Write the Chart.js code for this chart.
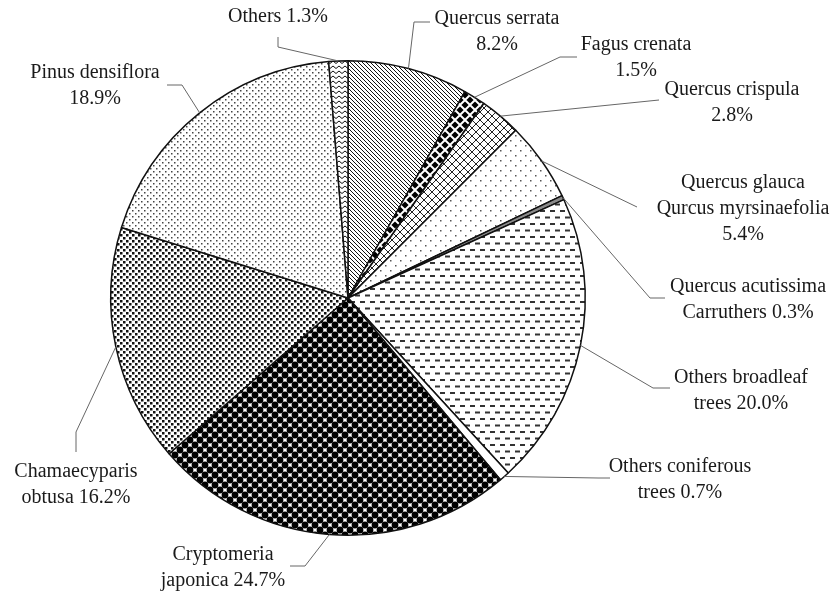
<!DOCTYPE html>
<html>
<head>
<meta charset="utf-8">
<title>Forest species composition</title>
<script src="https://cdn.jsdelivr.net/npm/chart.js@4.4.1/dist/chart.umd.min.js"></script>
<style>
  html, body { margin: 0; padding: 0; background: #fff; }
  #wrap { width: 834px; height: 592px; }
</style>
</head>
<body>
<div id="wrap"><canvas id="pie"></canvas></div>
<script>
// data, clockwise from 12 o'clock
let SPECIES = ['Quercus serrata', 'Fagus crenata', 'Quercus crispula', 'Quercus glauca Qurcus myrsinaefolia',
	'Quercus acutissima Carruthers', 'Others broadleaf trees', 'Others coniferous trees',
	'Cryptomeria japonica', 'Chamaecyparis obtusa', 'Pinus densiflora', 'Others'];
let SHARE = [8.2, 1.5, 2.8, 5.4, 0.3, 20.0, 0.7, 24.7, 16.2, 18.9, 1.3];
// how each label is broken into lines, {v} is the share
let LABEL_LINES = [
	['Quercus serrata', '{v}'],
	['Fagus crenata', '{v}'],
	['Quercus crispula', '{v}'],
	['Quercus glauca', 'Qurcus myrsinaefolia', '{v}'],
	['Quercus acutissima', 'Carruthers {v}'],
	['Others broadleaf', 'trees {v}'],
	['Others coniferous', 'trees {v}'],
	['Cryptomeria', 'japonica {v}'],
	['Chamaecyparis', 'obtusa {v}'],
	['Pinus densiflora', '{v}'],
	['Others {v}'],
];

// label placement: text centre and the leader's elbow points (text side first)
let LABEL_LAYOUT = [
	{ x: 497, y: 19, path: [[430, 22], [414, 22]] },
	{ x: 636, y: 45, path: [[577, 57], [560, 57]] },
	{ x: 732, y: 90, path: [[659, 100]] },
	{ x: 743, y: 183, path: [[637, 207]] },
	{ x: 748, y: 287, path: [[665, 298], [650, 298]] },
	{ x: 741, y: 378, path: [[670, 388], [653, 388]] },
	{ x: 680, y: 467, path: [[610, 478], [598, 478]] },
	{ x: 223, y: 555, path: [[290, 566], [305, 566]] },
	{ x: 76, y: 472, path: [[76, 452], [76, 432]] },
	{ x: 95, y: 73, path: [[167, 85], [182, 85]] },
	{ x: 278, y: 17, path: [[278, 37], [278, 47]] },
];

function makeTile(w, h, draw) {
	let c = document.createElement('canvas');
	c.width = w;
	c.height = h;
	let t = c.getContext('2d');
	t.fillStyle = '#fff';
	t.fillRect(0, 0, w, h);
	draw(t);
	return document.getElementById('pie').getContext('2d').createPattern(c, 'repeat');
}

function dots(step, size, color) {
	return makeTile(step, step, (t) => {
		t.fillStyle = color;
		t.fillRect(0, 0, size, size);
		t.fillRect(step / 2, step / 2, size, size);
	});
}

let FILLS = [
	// diagonal hatch
	makeTile(4, 4, (t) => {
		t.strokeStyle = '#111';
		t.lineWidth = 1;
		t.beginPath();
		t.moveTo(-1, -1); t.lineTo(5, 5);
		t.moveTo(-1, 3); t.lineTo(1, 5);
		t.moveTo(3, -1); t.lineTo(5, 1);
		t.stroke();
	}),
	// black diamonds
	makeTile(10, 10, (t) => {
		t.fillStyle = '#000';
		let d = (cx, cy) => {
			t.beginPath();
			t.moveTo(cx, cy - 3.6); t.lineTo(cx + 3.6, cy); t.lineTo(cx, cy + 3.6); t.lineTo(cx - 3.6, cy);
			t.closePath();
			t.fill();
		};
		d(5, 5); d(0, 0); d(10, 0); d(0, 10); d(10, 10);
	}),
	// cross hatch
	makeTile(8, 8, (t) => {
		t.strokeStyle = '#222';
		t.lineWidth = 1;
		t.beginPath();
		t.moveTo(0, 0); t.lineTo(8, 8);
		t.moveTo(8, 0); t.lineTo(0, 8);
		t.stroke();
	}),
	// sparse dots
	dots(10, 1.5, '#555'),
	'#8a8a8a',
	// dashes
	makeTile(10, 13, (t) => {
		t.fillStyle = '#333';
		t.fillRect(0, 2, 5, 2);
		t.fillRect(5, 8.5, 5, 2);
	}),
	'#ffffff',
	// black balls
	makeTile(10, 10, (t) => {
		t.fillStyle = '#000';
		[[0, 0], [10, 0], [0, 10], [10, 10], [5, 5]].forEach(([x, y]) => {
			t.beginPath();
			t.arc(x, y, 3.4, 0, Math.PI * 2);
			t.fill();
		});
	}),
	dots(6, 2.5, '#111'),
	dots(6, 1.5, '#444'),
	// zigzag
	makeTile(6, 5, (t) => {
		t.strokeStyle = '#111';
		t.lineWidth = 1;
		t.beginPath();
		t.moveTo(0, 3.5); t.lineTo(3, 1); t.lineTo(6, 3.5);
		t.stroke();
	}),
];

const leaderPlugin = {
	id: 'leaders',
	afterDatasetsDraw(chart) {
		let ctx = chart.ctx;
		let arcs = chart.getDatasetMeta(0).data;
		ctx.save();
		ctx.strokeStyle = '#666';
		ctx.lineWidth = 1;
		arcs.forEach((arc, i) => {
			let p = arc.getProps(['x', 'y', 'startAngle', 'endAngle', 'outerRadius']);
			let mid = (p.startAngle + p.endAngle) / 2;
			let ex = p.x + Math.cos(mid) * p.outerRadius;
			let ey = p.y + Math.sin(mid) * p.outerRadius;
			let pts = LABEL_LAYOUT[i].path;
			ctx.beginPath();
			ctx.moveTo(pts[0][0], pts[0][1]);
			for (let k = 1; k < pts.length; k++) ctx.lineTo(pts[k][0], pts[k][1]);
			ctx.lineTo(ex, ey);
			ctx.stroke();
		});
		ctx.font = '20px "Liberation Serif", "Times New Roman", serif';
		ctx.fillStyle = '#1a1a1a';
		ctx.textAlign = 'center';
		ctx.textBaseline = 'middle';
		LABEL_LINES.forEach((lines, i) => {
			let v = SHARE[i].toFixed(1) + '%';
			lines.forEach((s, k) => {
				ctx.fillText(s.replace('{v}', v), LABEL_LAYOUT[i].x, LABEL_LAYOUT[i].y + k * 26);
			});
		});
		ctx.restore();
	},
};

new Chart(document.getElementById('pie').getContext('2d'), {
	type: 'pie',
	data: {
		labels: SPECIES,
		datasets: [
			{
				data: SHARE,
				backgroundColor: FILLS,
				borderColor: '#111',
				borderWidth: 1.5,
			},
		],
	},
	options: {
		animation: false,
		responsive: true,
		maintainAspectRatio: false,
		events: [],
		layout: { padding: { left: 100, right: 238, top: 60, bottom: 56 } },
		plugins: { legend: { display: false }, tooltip: { enabled: false } },
	},
	plugins: [leaderPlugin],
});
</script>
</body>
</html>
